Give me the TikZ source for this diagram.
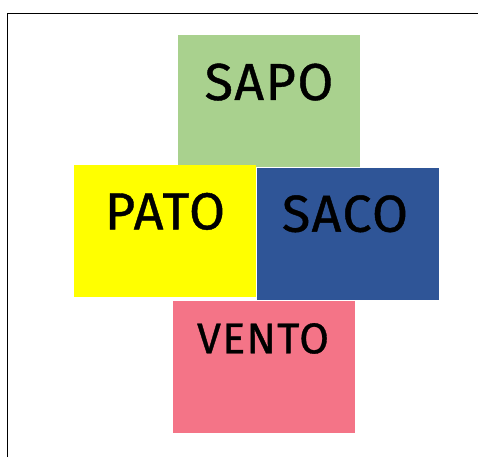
\documentclass[tikz,border=0pt]{standalone}
\usepackage{fontspec}
\setmainfont{Fira Sans}[FakeBold=0.8,LetterSpace=3]
\definecolor{sapo}{HTML}{A9D18E}
\definecolor{pato}{HTML}{FFFF00}
\definecolor{saco}{HTML}{2F5597}
\definecolor{vento}{HTML}{F47487}
\begin{document}
\begin{tikzpicture}[x=1pt,y=-1pt,
  word/.style={anchor=base,inner sep=0pt,font=\fontsize{52}{52}\selectfont,text=black}]
\useasboundingbox (0,0) rectangle (478,457);
\draw[line width=1.3pt] (7.5,457) -- (7.5,13.5) -- (478,13.5);
\fill[sapo] (178,35) rectangle (360,166.5);
\fill[pato] (74,165) rectangle (255.7,296.7);
\fill[saco] (257,168) rectangle (439,299.7);
\fill[vento] (173,301) rectangle (355,432.7);
\node[word] (sapo) at (269,100) {SAPO};
\node[word] (pato) at (165,229.3) {PATO};
\node[word] (saco) at (345,231.7) {SACO};
\node[word,font=\fontsize{43}{43}\selectfont] (vento) at (263,353.3) {VENTO};
\end{tikzpicture}
\end{document}
